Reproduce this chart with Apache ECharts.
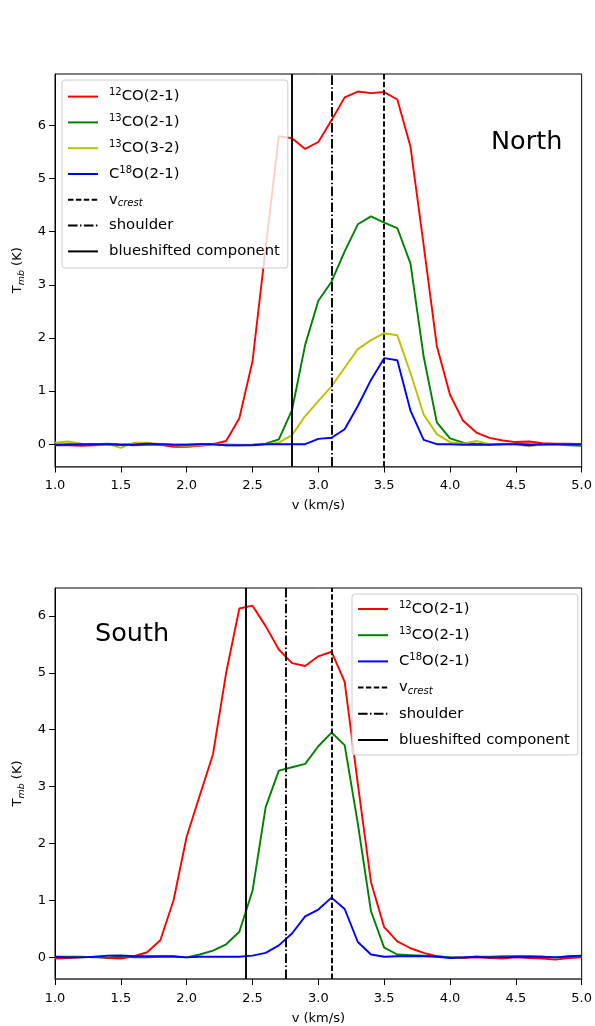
<!DOCTYPE html>
<html><head><meta charset="utf-8">
<script src="https://cdn.jsdelivr.net/npm/echarts@6/dist/echarts.min.js"></script>
<style>html,body{margin:0;padding:0;background:#fff}#c{width:595px;height:1026px}</style>
</head><body><div id="c"></div>
<script>
// ---- data ----
const velocity = [1.0,1.1,1.2,1.3,1.4,1.5,1.6,1.7,1.8,1.9,2.0,2.1,2.2,2.3,2.4,2.5,2.6,2.7,2.8,2.9,3.0,
  3.1,3.2,3.3,3.4,3.5,3.6,3.7,3.8,3.9,4.0,4.1,4.2,4.3,4.4,4.5,4.6,4.7,4.8,4.9,5.0];

const north12CO21 = [-0.02,-0.02,-0.03,-0.02,0.0,-0.01,-0.02,-0.01,-0.01,-0.05,-0.05,-0.03,0.0,0.06,0.49,1.56,3.7,5.80,5.76,5.56,5.69,
  6.10,6.53,6.64,6.61,6.63,6.49,5.60,3.75,1.85,0.93,0.44,0.22,0.12,0.07,0.04,0.05,0.02,0.01,0.01,0.0];
const north13CO21 = [-0.01,0.0,0.0,0.0,0.01,-0.01,0.0,0.0,0.0,-0.01,-0.01,0.0,0.0,-0.02,-0.02,-0.01,0.01,0.09,0.64,1.87,2.70,
  3.06,3.63,4.14,4.29,4.17,4.07,3.40,1.65,0.41,0.11,0.03,0.01,0.0,0.0,0.01,0.0,-0.01,0.0,-0.02,-0.03];
const north13CO32 = [0.03,0.05,0.01,0.0,0.0,-0.07,0.03,0.03,0.0,-0.02,-0.03,-0.02,0.0,0.0,-0.01,-0.01,0.0,0.03,0.17,0.53,0.81,
  1.09,1.44,1.79,1.96,2.09,2.05,1.34,0.56,0.19,0.04,0.01,0.06,0.0,0.0,0.0,-0.04,0.0,0.0,0.0,0.0];
const northC18O21 = [-0.01,-0.01,0.0,0.0,0.0,-0.01,-0.01,0.01,0.0,-0.01,-0.01,0.0,0.0,-0.02,-0.02,-0.02,0.0,0.0,0.0,0.0,0.10,
  0.12,0.28,0.72,1.21,1.62,1.58,0.63,0.08,0.0,0.0,-0.01,-0.01,-0.01,0.0,0.0,-0.02,0.0,0.0,0.0,0.0];

const south12CO21 = [-0.02,-0.01,0.0,0.01,-0.01,-0.02,0.02,0.09,0.30,1.0,2.12,2.85,3.57,5.0,6.13,6.18,5.82,5.41,5.17,5.12,5.29,
  5.37,4.84,3.05,1.32,0.53,0.28,0.16,0.08,0.02,0.0,-0.01,0.0,-0.01,-0.02,0.0,-0.01,-0.02,-0.04,-0.01,0.0];
const south13CO21 = [0.01,0.01,0.01,0.0,0.0,0.01,0.0,0.0,0.01,0.01,0.0,0.05,0.12,0.23,0.45,1.17,2.64,3.28,3.34,3.40,3.71,
  3.95,3.73,2.35,0.81,0.17,0.05,0.04,0.03,0.02,0.0,0.0,0.01,0.01,0.02,0.02,0.02,0.01,0.0,0.01,0.02];
const southC18O21 = [0.01,0.0,0.0,0.01,0.03,0.035,0.02,0.02,0.02,0.02,0.0,0.01,0.01,0.01,0.01,0.03,0.08,0.21,0.42,0.72,0.84,
  1.05,0.85,0.27,0.05,0.01,0.02,0.02,0.02,0.01,-0.01,0.0,0.01,0.0,0.0,0.01,0.01,0.01,0.0,0.02,0.03];

// vertical markers: [v_crest, shoulder, blueshifted component]
const northMarkers = [3.5, 3.1, 2.8];
const southMarkers = [3.1, 2.75, 2.45];

// axes
const xTicks = [1.0,1.5,2.0,2.5,3.0,3.5,4.0,4.5,5.0];
const yTicks = [0,1,2,3,4,5,6];
const xRange = [1.0, 5.0];
const northYRange = [-0.42, 6.97];
const southYRange = [-0.38, 6.49];

// ---- chart ----
const FONT = 'DejaVu Sans';
const chart = echarts.init(document.getElementById('c'), null, {renderer:'canvas'});
const pairs = arr => velocity.map((v,i)=>[v, arr[i]]);

const C = {r:'#ff0000', g:'#008000', y:'#bfbf00', b:'#0000ff', k:'#000000'};
const DASH = [5.5, 2.4];
const DASHDOT = [9.6, 2.4, 1.5, 2.4];

const labelMap = {
  'c12CO21':'{sup|12}CO(2-1)',
  'c13CO21':'{sup|13}CO(2-1)',
  'c13CO32':'{sup|13}CO(3-2)',
  'cC18O21':'C{sup|18}O(2-1)',
  'vcrest':'v{sub|crest}',
  'shoulder':'shoulder',
  'blue':'blueshifted component'
};

function curve(name, arr, color, idx){
  return {type:'line', name, data:pairs(arr), xAxisIndex:idx, yAxisIndex:idx,
    symbol:'none', showSymbol:false, smooth:false, animation:false,
    lineStyle:{color, width:1.9}, itemStyle:{color}, z:2};
}
function vline(name, x, type, idx){
  return {type:'line', name, data:[], xAxisIndex:idx, yAxisIndex:idx, symbol:'none', animation:false,
    lineStyle:{color:C.k, width:1.9, type}, itemStyle:{color:C.k}, z:3,
    markLine:{silent:true, symbol:['none','none'], animation:false, label:{show:false},
      lineStyle:{color:C.k, width:1.9, type}, emphasis:{disabled:true},
      data:[{xAxis:x}]}};
}

const legendText = {
  fontFamily:FONT, fontSize:14.8, color:'#000', lineHeight:18, padding:[0,0,0,6],
  rich:{
    sup:{fontFamily:FONT, fontSize:10, verticalAlign:'top', lineHeight:18, color:'#000'},
    sub:{fontFamily:FONT, fontSize:10, fontStyle:'italic', verticalAlign:'bottom', lineHeight:16, color:'#000'}
  }
};
function legend(data, left, top, gap, pad){
  return {data, left, top, orient:'vertical', itemWidth:30, itemHeight:14, itemGap:gap,
    padding:pad, backgroundColor:'rgba(255,255,255,0.8)', borderColor:'#cccccc', borderWidth:1, borderRadius:3,
    itemStyle:{opacity:0, borderWidth:0},
    formatter:n=>labelMap[n], textStyle:legendText, selectedMode:false, z:10};
}

function xAx(idx){
  return {type:'value', gridIndex:idx, min:xRange[0], max:xRange[1], interval:0.5,
    name:'v (km/s)', nameLocation:'middle', nameGap:33,
    nameTextStyle:{fontFamily:FONT, fontSize:13, color:'#000'},
    axisLine:{show:true, onZero:false, lineStyle:{color:'#555', width:1.6}},
    axisTick:{show:true, inside:false, length:6, lineStyle:{color:'#000'}},
    axisLabel:{fontFamily:FONT, fontSize:13, color:'#000', margin:13, formatter:v=>v.toFixed(1),
      customValues:xTicks},
    splitLine:{show:false}};
}
function yAx(idx, range){
  return {type:'value', gridIndex:idx, min:range[0], max:range[1],
    name:'{t|T}{s|mb}{t| (K)}', nameLocation:'middle', nameGap:27, nameRotate:90,
    nameTextStyle:{fontFamily:FONT, fontSize:13, color:'#000',
      rich:{t:{fontFamily:FONT, fontSize:13, color:'#000', lineHeight:16, verticalAlign:'top'},
            s:{fontFamily:FONT, fontSize:9.5, fontStyle:'italic', color:'#000', lineHeight:16, verticalAlign:'bottom'}}},
    axisLine:{show:true, onZero:false, lineStyle:{color:'#000', width:1}},
    axisTick:{show:true, inside:false, length:6, lineStyle:{color:'#000'}, customValues:yTicks},
    axisLabel:{fontFamily:FONT, fontSize:13, color:'#000', margin:9, customValues:yTicks},
    splitLine:{show:false}};
}

const option = {
  animation:false,
  backgroundColor:'#fff',
  textStyle:{fontFamily:FONT},
  title:[
    {text:'North', left:491, top:129, padding:0, textStyle:{fontFamily:FONT, fontSize:25.5, fontWeight:'normal', color:'#000'}},
    {text:'South', left:95, top:621, padding:0, textStyle:{fontFamily:FONT, fontSize:25.5, fontWeight:'normal', color:'#000'}}
  ],
  grid:[
    {left:55, right:12, top:74, height:392.5, show:true, borderColor:'#000', borderWidth:1, backgroundColor:'transparent'},
    {left:55, right:12, top:588, height:393, show:true, borderColor:'#000', borderWidth:1, backgroundColor:'transparent'}
  ],
  xAxis:[xAx(0), xAx(1)],
  yAxis:[yAx(0, northYRange), yAx(1, southYRange)],
  legend:[
    legend(['c12CO21','c13CO21','c13CO32','cC18O21','vcrest','shoulder','blue'], 62, 80, 7.8, [7.6,8,7.6,5]),
    legend(['c12CO21','c13CO21','cC18O21','vcrest','shoulder','blue'], 352, 594, 8.2, [6,8,6,5])
  ],
  series:[
    curve('c12CO21', north12CO21, C.r, 0),
    curve('c13CO21', north13CO21, C.g, 0),
    curve('c13CO32', north13CO32, C.y, 0),
    curve('cC18O21', northC18O21, C.b, 0),
    vline('vcrest', northMarkers[0], DASH, 0),
    vline('shoulder', northMarkers[1], DASHDOT, 0),
    vline('blue', northMarkers[2], 'solid', 0),
    curve('c12CO21', south12CO21, C.r, 1),
    curve('c13CO21', south13CO21, C.g, 1),
    curve('cC18O21', southC18O21, C.b, 1),
    vline('vcrest', southMarkers[0], DASH, 1),
    vline('shoulder', southMarkers[1], DASHDOT, 1),
    vline('blue', southMarkers[2], 'solid', 1)
  ]
};
chart.setOption(option);
</script>
</body></html>
